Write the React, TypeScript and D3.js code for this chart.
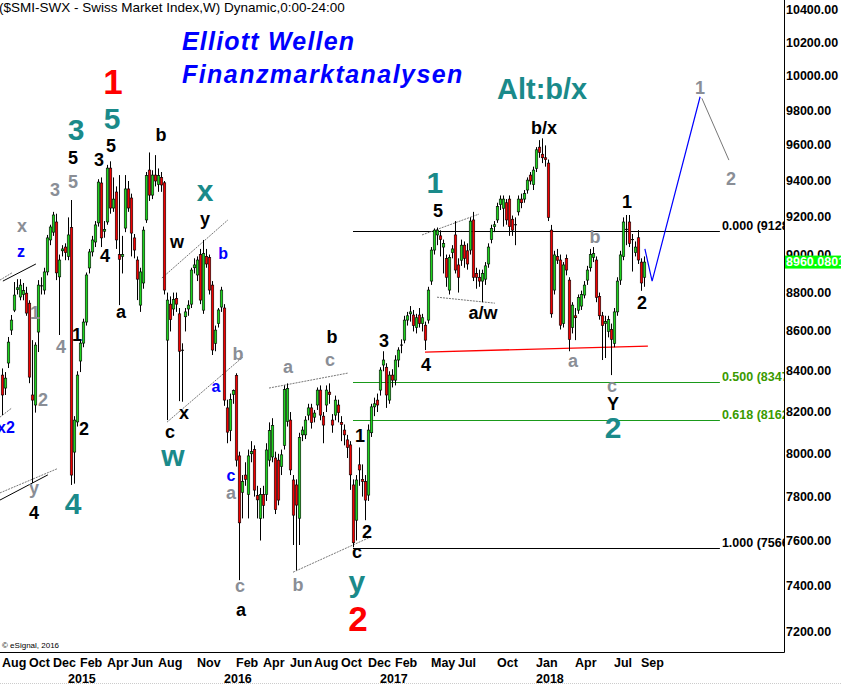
import React from 'react';
import * as d3 from 'd3';

const FONT = '"Liberation Sans", Arial, Helvetica, sans-serif';

// first weekly candle: week of Aug 4, 2014
const firstWeek = new Date(2014, 7, 4);

// weekly OHLC [open, high, low, close]
const candles: [number, number, number, number][] = [
  [8381, 8414, 8185, 8283], [8317, 8396, 8283, 8366], [8441, 8572, 8416, 8546], [8607, 8684, 8582, 8658],
  [8709, 8855, 8699, 8787], [8815, 8870, 8790, 8825], [8777, 8870, 8760, 8839], [8790, 8850, 8760, 8810],
  [8797, 8830, 8680, 8694], [8745, 8760, 8341, 8371], [8283, 8556, 7863, 8258], [8234, 8545, 8197, 8531],
  [8597, 8865, 8496, 8839], [8830, 8880, 8790, 8835], [8813, 8930, 8790, 8908], [8908, 9105, 8890, 9089],
  [9078, 9160, 9050, 9148], [9120, 9230, 9100, 9213], [9175, 9220, 8865, 8903], [8882, 9000, 8582, 8971],
  [9020, 9050, 8990, 9030], [9040, 9060, 8970, 9010], [8990, 9200, 8970, 9105], [9145, 9295, 7854, 7900],
  [8008, 8180, 7860, 8161], [8152, 8400, 8130, 8381], [8451, 8560, 8396, 8541], [8541, 8665, 8520, 8648],
  [8648, 8905, 8630, 8892], [8929, 9030, 8900, 9014], [9014, 9100, 8990, 9078], [9067, 9180, 9040, 9159],
  [9170, 9410, 9150, 9394], [9389, 9420, 9040, 9089], [9125, 9180, 9090, 9135], [9175, 9490, 9160, 9472],
  [9472, 9510, 9220, 9251], [9251, 9420, 9230, 9300], [9339, 9370, 9030, 9078], [9000, 9433, 8735, 8975],
  [8990, 9100, 8900, 9000], [9142, 9433, 9120, 9356], [9356, 9400, 9230, 9251], [9306, 9330, 8990, 9115],
  [9089, 9110, 8980, 9024], [8971, 8990, 8761, 8870], [8735, 8930, 8700, 8908], [8850, 9150, 8820, 9131],
  [9186, 9450, 9170, 9430], [9461, 9560, 9290, 9322], [9322, 9460, 9300, 9433], [9433, 9545, 9370, 9400],
  [9380, 9470, 9340, 9430], [9420, 9450, 9340, 9378], [9390, 9400, 8790, 8813], [8556, 8800, 8161, 8761],
  [8740, 8780, 8600, 8660], [8715, 8800, 8680, 8765], [8770, 8800, 8700, 8740], [8690, 8720, 8253, 8500],
  [8500, 8540, 8250, 8505], [8675, 8720, 8600, 8700], [8715, 8760, 8680, 8735], [8740, 8930, 8720, 8918],
  [8930, 8980, 8900, 8945], [8892, 8990, 8860, 8971], [9000, 9030, 8740, 8761], [8709, 9078, 8690, 9005],
  [8990, 9030, 8930, 8950], [8985, 9000, 8790, 8813], [8839, 8860, 8481, 8506], [8540, 8630, 8500, 8607],
  [8640, 8720, 8620, 8710], [8725, 8830, 8700, 8813], [8720, 8740, 8230, 8258], [8220, 8260, 8050, 8103],
  [8110, 8290, 8060, 8260], [8285, 8310, 8240, 8305], [8380, 8390, 7940, 7970], [7990, 8010, 7424, 7680],
  [7820, 7900, 7700, 7870], [7900, 7960, 7850, 7880], [7810, 8020, 7700, 7990], [8000, 8060, 7960, 8010],
  [8020, 8040, 7800, 7830], [7805, 7850, 7700, 7785], [7700, 7840, 7600, 7810], [7810, 7850, 7700, 7760],
  [7810, 8050, 7780, 8018], [7970, 8150, 7940, 8110], [7985, 8170, 7960, 8135], [7980, 8010, 7720, 7740],
  [7970, 8000, 7760, 7784], [7940, 8020, 7900, 7995], [8040, 8330, 8020, 8310], [8155, 8340, 8130, 8315],
  [8161, 8200, 7900, 7924], [7877, 7900, 7580, 7715], [7854, 7880, 7468, 7761], [7701, 8100, 7580, 8078],
  [8090, 8130, 8060, 8113], [8090, 8180, 8070, 8161], [8185, 8240, 8160, 8220], [8220, 8240, 8120, 8150],
  [8175, 8210, 8150, 8195], [8234, 8320, 8210, 8307], [8307, 8330, 8160, 8185], [8180, 8200, 8050, 8137],
  [8234, 8330, 8200, 8307], [8297, 8340, 8240, 8285], [8161, 8190, 8100, 8137], [8185, 8280, 8160, 8258],
  [8234, 8260, 8150, 8197], [8150, 8180, 8060, 8140], [8113, 8140, 8040, 8090], [8066, 8090, 7980, 8030],
  [8042, 8060, 7831, 7901], [7854, 7880, 7570, 7590], [7692, 7900, 7600, 7877], [7948, 8030, 7850, 7924],
  [7880, 7950, 7800, 7870], [7870, 7900, 7692, 7784], [7807, 8140, 7780, 8113], [8100, 8240, 8080, 8225],
  [8225, 8270, 8180, 8240], [8258, 8290, 8200, 8234], [8307, 8420, 8280, 8406], [8431, 8500, 8400, 8456],
  [8420, 8440, 8220, 8283], [8258, 8400, 8240, 8381], [8381, 8410, 8320, 8356], [8356, 8480, 8330, 8456],
  [8456, 8520, 8420, 8506], [8531, 8560, 8490, 8531], [8556, 8680, 8540, 8658], [8658, 8700, 8630, 8680],
  [8690, 8730, 8650, 8700], [8684, 8710, 8600, 8630], [8620, 8690, 8590, 8670], [8684, 8720, 8620, 8640],
  [8640, 8690, 8600, 8670], [8632, 8650, 8506, 8556], [8658, 8830, 8640, 8813], [8860, 9040, 8840, 9024],
  [9024, 9140, 9000, 9131], [9105, 9145, 9050, 9131], [9100, 9130, 8990, 9080], [9040, 9080, 8900, 9060],
  [8980, 9000, 8830, 8880], [8813, 9000, 8790, 8985], [9010, 9050, 8980, 9030], [9105, 9180, 8900, 8918],
  [8945, 8980, 8800, 8880], [8970, 9080, 8940, 9050], [9050, 9070, 8930, 8980], [9020, 9060, 8920, 8950],
  [9024, 9200, 9000, 9180], [9186, 9230, 8860, 8880], [8900, 8930, 8820, 8880], [8880, 8920, 8830, 8860],
  [8860, 8920, 8750, 8900], [8870, 8960, 8840, 8940], [8950, 9060, 8930, 9040], [9080, 9160, 9060, 9140],
  [9150, 9180, 9120, 9160], [9186, 9280, 9170, 9260], [9270, 9320, 9240, 9300], [9250, 9320, 9150, 9300],
  [9280, 9300, 9160, 9186], [9300, 9320, 9100, 9150], [9190, 9210, 9100, 9131], [9160, 9200, 9050, 9160],
  [9230, 9320, 9210, 9300], [9300, 9330, 9250, 9280], [9300, 9350, 9280, 9330], [9350, 9420, 9330, 9405],
  [9433, 9450, 9380, 9400], [9380, 9480, 9350, 9461], [9470, 9590, 9450, 9575], [9590, 9630, 9530, 9560],
  [9550, 9640, 9500, 9530], [9530, 9600, 9480, 9520], [9500, 9520, 9180, 9200], [9131, 9159, 8670, 8690],
  [8813, 9020, 8790, 8998], [8990, 9030, 8950, 8970], [8971, 9000, 8610, 8632], [8640, 8960, 8620, 8945],
  [8980, 9000, 8890, 8918], [8865, 8880, 8500, 8560], [8620, 8750, 8590, 8735], [8680, 8720, 8556, 8670],
  [8709, 8790, 8690, 8775], [8730, 8810, 8710, 8790], [8787, 8860, 8770, 8839], [8865, 8940, 8840, 8918],
  [8930, 9030, 8910, 9000], [8985, 9040, 8960, 9005], [8971, 8990, 8750, 8775], [8780, 8800, 8660, 8680],
  [8680, 8700, 8456, 8630], [8640, 8680, 8466, 8650], [8600, 8680, 8570, 8660], [8610, 8640, 8381, 8560],
  [8540, 8720, 8520, 8700], [8700, 8880, 8680, 8860], [8865, 9020, 8840, 8998], [8990, 9200, 8970, 9175],
  [9130, 9213, 9050, 9135], [9175, 9213, 9040, 9060], [9080, 9110, 8910, 9080], [9010, 9070, 8990, 9040],
  [9090, 9131, 8950, 8971], [8960, 8980, 8809, 8850], [8880, 8990, 8830, 8960.0801],
];

const priceTicks = d3.range(7200, 10401, 200);

// [year, monthIndex, label]
const monthTicks: [number, number, string][] = [
  [2014, 7, 'Aug'], [2014, 9, 'Oct'], [2014, 11, 'Dec'], [2015, 1, 'Feb'], [2015, 3, 'Apr'],
  [2015, 5, 'Jun'], [2015, 7, 'Aug'], [2015, 10, 'Nov'], [2016, 1, 'Feb'], [2016, 3, 'Apr'],
  [2016, 5, 'Jun'], [2016, 7, 'Aug'], [2016, 9, 'Oct'], [2016, 11, 'Dec'], [2017, 1, 'Feb'],
  [2017, 4, 'May'], [2017, 6, 'Jul'], [2017, 9, 'Oct'], [2018, 0, 'Jan'], [2018, 3, 'Apr'],
  [2018, 6, 'Jul'], [2018, 8, 'Sep'],
];
const yearTicks: number[] = [2015, 2016, 2017, 2018];

// Fibonacci retracement
const fibHigh = 9128.4;
const fibLow = 7566.2;
const fibLevels = [0, 0.5, 0.618, 1];
const fibStartWeek = 117;
const fibEndWeek = 239.3;

// wave labels: [text, week index, price, degree]
const waveLabels: [string, number, number, string][] = [
  ['1', 37, 9967, 'primary'], ['5', 36.7, 9751, 'intermediate'], ['3', 24.7, 9693, 'intermediate'],
  ['5', 23.7, 9529, 'minor'], ['5', 23.7, 9394, 'minute'], ['3', 17.7, 9350, 'minute'],
  ['3', 32.3, 9517, 'minor'], ['5', 36.3, 9596, 'minor'], ['b', 53, 9659, 'minor'],
  ['x', 6.7, 9153, 'minute'], ['z', 6.3, 9014, 'minuette'], ['1', 11, 8694, 'minute'],
  ['4', 19.7, 8521, 'minute'], ['2', 13.7, 8258, 'minute'], ['x2', 1.3, 8127, 'minuette'],
  ['1', 25, 8582, 'minor'], ['2', 27.3, 8118, 'minor'], ['4', 34.3, 8992, 'minor'],
  ['a', 39.7, 8699, 'minor'], ['w', 58.3, 9067, 'minor'], ['b', 73.7, 9008, 'minuette'],
  ['b', 78.7, 8486, 'minute'], ['a', 71.3, 8327, 'minuette'], ['x', 60.7, 8195, 'minor'],
  ['c', 56, 8103, 'minor'], ['w', 57, 7990, 'intermediate'], ['x', 67.7, 9345, 'intermediate'],
  ['y', 67.7, 9191, 'minor'], ['y', 10.7, 7838, 'minute'], ['4', 10.7, 7724, 'minor'],
  ['4', 23.7, 7770, 'intermediate'], ['c', 76.3, 7896, 'minuette'], ['a', 76.3, 7817, 'minute'],
  ['c', 79.3, 7399, 'minute'], ['a', 79.7, 7294, 'minor'], ['b', 98.7, 7403, 'minute'],
  ['2', 121.7, 7638, 'minor'], ['c', 118.3, 7548, 'minor'], ['y', 118.3, 7420, 'intermediate'],
  ['2', 118.7, 7259, 'primary'], ['a', 95.3, 8421, 'minute'], ['b', 110, 8571, 'minor'],
  ['c', 109.3, 8456, 'minute'], ['1', 119.3, 8085, 'minor'], ['3', 127.3, 8551, 'minor'],
  ['4', 141.3, 8431, 'minor'], ['5', 145.3, 9235, 'minor'], ['1', 144.3, 9389, 'intermediate'],
  ['a/w', 160.3, 8694, 'minor'], ['b/x', 180.7, 9702, 'minor'], ['1', 208.3, 9284, 'minor'],
  ['b', 197.7, 9094, 'minute'], ['2', 213.3, 8745, 'minor'], ['a', 190.3, 8451, 'minute'],
  ['c', 203.3, 8327, 'minute'], ['Y', 203.7, 8239, 'minor'], ['2', 203.7, 8127, 'intermediate'],
  ['1', 232.7, 9931, 'minute'], ['2', 243, 9411, 'minute'],
];

// trend lines: [kind, week1, price1, week2, price2]
const trendLines: [string, number, number, number, number][] = [
  ['gray', 53.3, 8876, 75.3, 9186], ['gray', 55, 8151, 80.3, 8471],
  ['gray', -0.7, 8865, 3.3, 8903], ['black', 0.3, 8860, 11.3, 8950],
  ['gray', -0.7, 8175, 3.3, 8220], ['gray', -0.7, 7817, 18.3, 7929],
  ['black', -0.7, 7784, 15.3, 7901], ['gray', 89, 8317, 115.3, 8391],
  ['gray', 97, 7459, 122.7, 7615], ['gray', 140, 9105, 159, 9218],
  ['gray', 145, 8776, 164.3, 8745], ['red', 141, 8496, 215.3, 8526],
];

const projectionBlue: [number, number][] = [[214.3, 9030], [216.7, 8860], [232.7, 9880]];
const projectionGray: [number, number][] = [[233.3, 9871], [242.3, 9517]];

const degreeStyle: Record<string, { fill: string; size: number }> = {
  primary: { fill: '#ff0000', size: 35 },
  intermediate: { fill: '#1a8a8a', size: 30 },
  minor: { fill: '#000000', size: 18 },
  minute: { fill: '#8a8e96', size: 18 },
  minuette: { fill: '#0000ff', size: 16 },
};
const lineStyle: Record<string, { stroke: string; width: number; dash?: string }> = {
  gray: { stroke: '#777777', width: 1, dash: '2,1' },
  black: { stroke: '#000000', width: 1 },
  red: { stroke: '#ff0000', width: 1.3 },
};

function firstMonday(y: number, m: number) {
  const d = new Date(y, m, 1);
  while (d.getDay() !== 1) d.setDate(d.getDate() + 1);
  return d;
}

export default function App() {
  const W = 841, H = 685, R = 784, B = 652;
  const x = d3.scaleTime().domain([new Date(2015, 0, 5), new Date(2018, 0, 1)]).range([68, 536]);
  const y = d3.scaleLog().domain([7200, 10400]).range([632, 10]);
  const xw = (w: number) => x(new Date(firstWeek.getTime() + w * 7 * 86400000));
  const line = d3.line<[number, number]>().x(d => xw(d[0])).y(d => y(d[1]));
  const last = candles[candles.length - 1][3];

  return (
    <svg width={W} height={H} style={{ position: 'absolute', left: 0, top: 0, background: '#fff' }} fontFamily={FONT}>
      <defs>
        <clipPath id="plot"><rect x={0} y={0} width={R} height={B} /></clipPath>
      </defs>
      <rect x={0} y={0} width={W} height={H} fill="#fff" />
      <text x={-1} y={12} fontSize={13.5} fill="#000">($SMI-SWX - Swiss Market Index,W) Dynamic,0:00-24:00</text>
      <text x={182} y={50} fontSize={25} fontWeight="bold" fontStyle="italic" fill="#0000ff" letterSpacing={1.2}>Elliott Wellen</text>
      <text x={182} y={83} fontSize={25} fontWeight="bold" fontStyle="italic" fill="#0000ff" letterSpacing={1.45}>Finanzmarktanalysen</text>
      <text x={497} y={99} fontSize={29} fontWeight="bold" fill="#1a8a8a">Alt:b/x</text>

      <g clipPath="url(#plot)">
        {fibLevels.map(l => {
          const p = fibHigh - l * (fibHigh - fibLow);
          const green = l > 0 && l < 1;
          const yy = Math.round(y(p)) + 0.5;
          return (
            <g key={l}>
              <line x1={xw(fibStartWeek)} x2={xw(fibEndWeek)} y1={yy} y2={yy} stroke={green ? '#1a9a1a' : '#000'} strokeWidth={1} />
              <text x={xw(fibEndWeek) + 2} y={yy - 2} fontSize={12.5} fontWeight="bold" fill={green ? '#3a9a00' : '#000'}>
                {`${l.toFixed(3)} (${p.toFixed(2)})`}
              </text>
            </g>
          );
        })}
        {trendLines.map((t, i) => {
          const s = lineStyle[t[0]];
          return <line key={i} x1={xw(t[1])} y1={y(t[2])} x2={xw(t[3])} y2={y(t[4])} stroke={s.stroke} strokeWidth={s.width} strokeDasharray={s.dash} />;
        })}
        {candles.map(([o, h, l, c], i) => {
          const cx = Math.round(xw(i)) + 0.5;
          const yo = y(o), yc = y(c);
          const top = Math.min(yo, yc);
          const bh = Math.abs(yo - yc);
          const cross = bh < 1.5;
          return (
            <g key={i}>
              <line x1={cx} x2={cx} y1={y(h)} y2={y(l)} stroke="#000" strokeWidth={1} />
              {cross ? (
                <rect x={cx - 1.5} y={top - 0.5} width={3} height={1} fill="#000" />
              ) : (
                <rect x={cx - 1.25} y={top} width={2.5} height={bh} fill={c >= o ? '#1ed21e' : '#f00000'} stroke="#000" strokeWidth={0.6} />
              )}
            </g>
          );
        })}
        <path d={line(projectionBlue) || ''} fill="none" stroke="#0000ff" strokeWidth={1.2} />
        <path d={line(projectionGray) || ''} fill="none" stroke="#777" strokeWidth={1} />
        {waveLabels.map((lb, i) => {
          const s = degreeStyle[lb[3]];
          return (
            <text key={i} x={xw(lb[1])} y={y(lb[2])} fontSize={s.size} fontWeight="bold" fill={s.fill}
              textAnchor="middle" dominantBaseline="central">{lb[0]}</text>
          );
        })}
      </g>

      <text x={2} y={648} fontSize={8} fill="#000">© eSignal, 2016</text>

      <line x1={0} x2={R + 0.5} y1={B + 0.5} y2={B + 0.5} stroke="#000" />
      <line x1={R + 0.5} x2={R + 0.5} y1={0} y2={B + 0.5} stroke="#000" />
      <line x1={0} x2={W} y1={683.5} y2={683.5} stroke="#ccc" strokeDasharray="1,1" />

      {priceTicks.map(v => (
        <text key={v} x={786} y={y(v)} fontSize={12.5} fontWeight="bold" fill="#000" dominantBaseline="central">{v.toFixed(2)}</text>
      ))}
      <rect x={785} y={y(last) - 6.5} width={56} height={13} fill="#00ff00" />
      <text x={786} y={y(last)} fontSize={12.5} fontWeight="bold" fill="#fff" dominantBaseline="central">{last.toFixed(4)}</text>

      {monthTicks.map(([yr, m, lab]) => (
        <text key={`${yr}-${m}`} x={x(firstMonday(yr, m))} y={667} fontSize={12.5} fontWeight="bold" fill="#000">{lab}</text>
      ))}
      {yearTicks.map(yr => (
        <text key={yr} x={x(firstMonday(yr, 0))} y={683} fontSize={12.5} fontWeight="bold" fill="#000">{yr}</text>
      ))}
    </svg>
  );
}
